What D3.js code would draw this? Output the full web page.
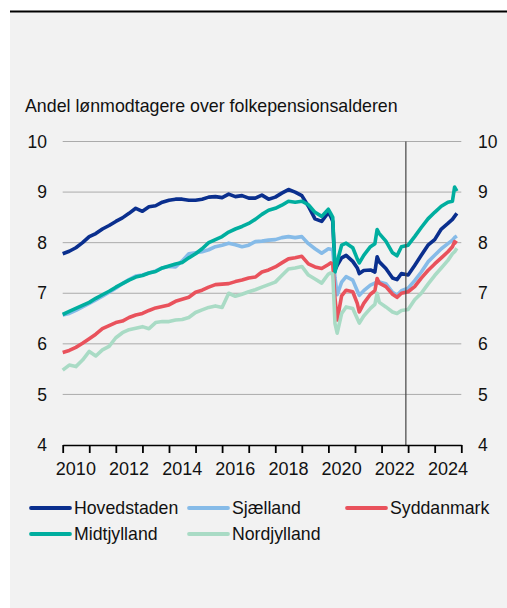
<!DOCTYPE html>
<html>
<head>
<meta charset="utf-8">
<script src="https://cdn.jsdelivr.net/npm/d3@7"></script>
<style>
  body { margin: 0; background: #fff; }
  svg { display: block; font-family: "Liberation Sans", Arial, sans-serif; }
</style>
</head>
<body>
<div id="chart"></div>
<script>
// dates (shared by all series)
var dates = [
  "2010-01","2010-04","2010-07","2010-10",
  "2011-01","2011-04","2011-07","2011-10",
  "2012-01","2012-04","2012-07","2012-10",
  "2013-01","2013-04","2013-07","2013-10",
  "2014-01","2014-04","2014-07","2014-10",
  "2015-01","2015-04","2015-07","2015-10",
  "2016-01","2016-04","2016-07","2016-10",
  "2017-01","2017-04","2017-07","2017-10",
  "2018-01","2018-04","2018-07","2018-10",
  "2019-01","2019-04","2019-07","2019-10",
  "2020-01","2020-02","2020-03","2020-04","2020-05","2020-07","2020-09","2020-12",
  "2021-02","2021-03","2021-05","2021-08","2021-10","2021-11","2021-12",
  "2022-03","2022-06","2022-08","2022-10",
  "2023-01","2023-04","2023-07","2023-10",
  "2024-01","2024-04","2024-07","2024-09","2024-10","2024-11"
];

var hovedstaden = [
  7.78, 7.83, 7.90, 8.00,
  8.12, 8.18, 8.27, 8.34,
  8.42, 8.49, 8.58, 8.68,
  8.62, 8.71, 8.73, 8.80,
  8.84, 8.86, 8.86, 8.84,
  8.84, 8.86, 8.90, 8.91,
  8.89, 8.96, 8.91, 8.93,
  8.88, 8.88, 8.94, 8.86,
  8.90, 8.98, 9.05, 9.00,
  8.93, 8.72, 8.47, 8.42,
  8.60, 8.52, 8.42, 7.46, 7.55, 7.70, 7.75, 7.63,
  7.50, 7.39, 7.45, 7.46, 7.42, 7.72, 7.62,
  7.49, 7.30, 7.27, 7.39,
  7.36, 7.55, 7.75, 7.95,
  8.06, 8.27, 8.38, 8.46, 8.52, 8.58
];
var sjaelland = [
  6.57, 6.60, 6.66, 6.73,
  6.80, 6.87, 6.94, 7.02,
  7.10, 7.19, 7.27, 7.34,
  7.36, 7.40, 7.44, 7.50,
  7.53, 7.52, 7.64, 7.78,
  7.80, 7.82, 7.86, 7.92,
  7.95, 7.99, 7.96, 7.92,
  7.95, 8.02, 8.03, 8.05,
  8.06, 8.10, 8.12, 8.10,
  8.12, 7.98, 7.88, 7.79,
  7.88, 7.87, 7.86, 7.30, 6.97, 7.22, 7.33, 7.26,
  7.05, 6.96, 7.05, 7.16, 7.20, 7.23, 7.22,
  7.19, 7.02, 6.96, 7.05,
  7.10, 7.25, 7.42, 7.62,
  7.75, 7.88, 7.98, 8.05, 8.10, 8.13
];
var syddanmark = [
  5.83, 5.87, 5.93, 6.01,
  6.10, 6.19, 6.30, 6.36,
  6.42, 6.45, 6.52, 6.57,
  6.60, 6.66, 6.71, 6.74,
  6.77, 6.84, 6.88, 6.92,
  7.02, 7.06, 7.12, 7.17,
  7.18, 7.19, 7.23, 7.26,
  7.30, 7.32, 7.42, 7.46,
  7.52, 7.60, 7.68, 7.70,
  7.73, 7.58, 7.52, 7.49,
  7.57, 7.60, 7.58, 6.90, 6.47, 6.95, 7.06, 7.03,
  6.80, 6.63, 6.80, 6.98, 7.05, 7.29, 7.20,
  7.13, 6.98, 6.92, 7.00,
  7.03, 7.13, 7.30, 7.45,
  7.58, 7.70, 7.82, 7.92, 8.02, 7.99
];
var midtjylland = [
  6.58, 6.64, 6.70, 6.76,
  6.82, 6.90, 6.97, 7.04,
  7.12, 7.19, 7.26, 7.32,
  7.35, 7.40, 7.43, 7.50,
  7.54, 7.58, 7.61, 7.70,
  7.78, 7.88, 8.00, 8.06,
  8.12, 8.21, 8.27, 8.32,
  8.38, 8.46, 8.56, 8.64,
  8.68, 8.74, 8.82, 8.80,
  8.82, 8.75, 8.60, 8.52,
  8.66, 8.58, 8.50, 7.42, 7.62, 7.95, 7.99, 7.90,
  7.68, 7.60, 7.75, 7.92, 7.98, 8.26, 8.18,
  8.03, 7.80, 7.74, 7.92,
  7.95, 8.12, 8.30, 8.47,
  8.60, 8.72, 8.80, 8.82, 9.10, 9.02
];
var nordjylland = [
  5.48, 5.58, 5.55, 5.68,
  5.85, 5.76, 5.88, 5.95,
  6.12, 6.22, 6.28, 6.31,
  6.34, 6.30, 6.42, 6.44,
  6.44, 6.47, 6.48, 6.52,
  6.62, 6.67, 6.72, 6.75,
  6.72, 7.00, 6.94, 6.98,
  7.03, 7.07, 7.12, 7.17,
  7.22, 7.35, 7.48, 7.50,
  7.53, 7.36, 7.28, 7.20,
  7.38, 7.40, 7.38, 6.40, 6.21, 6.60, 6.73, 6.70,
  6.50, 6.41, 6.55, 6.70, 6.78, 7.00, 6.82,
  6.73, 6.63, 6.60, 6.66,
  6.68, 6.87, 7.00, 7.18,
  7.35, 7.50, 7.65, 7.78, 7.82, 7.89
];

var seriesNames = ["Hovedstaden", "Sjælland", "Syddanmark", "Midtjylland", "Nordjylland"];
var seriesColors = ["#0a2f8e", "#86bbe8", "#e9525c", "#00ae9f", "#a9dbc5"];
var yTicks = [4, 5, 6, 7, 8, 9, 10];
var yearLabels = [2010, 2012, 2014, 2016, 2018, 2020, 2022, 2024];
var markerDate = "2022-12";
var title = "Andel lønmodtagere over folkepensionsalderen";

var svgWidth = 507, svgHeight = 608;
var plotLeft = 62.7, plotRight = 461.3, plotTop = 141.5, plotBottom = 445;

var svg = d3.select("#chart").append("svg")
  .attr("width", svgWidth)
  .attr("height", svgHeight);

// panel
svg.append("rect").attr("x", 10).attr("y", 12).attr("width", svgWidth - 10).attr("height", svgHeight - 12)
  .attr("fill", "#f2f2f2");
svg.append("line").attr("x1", 10).attr("x2", svgWidth).attr("y1", 11.5).attr("y2", 11.5)
  .attr("stroke", "#000").attr("stroke-width", 2);

svg.append("text").attr("x", 25).attr("y", 112)
  .attr("font-size", 17.8).attr("fill", "#111").text(title);

var parse = d3.timeParse("%Y-%m");
var x = d3.scaleTime()
  .domain([new Date(2010, 0, 1), new Date(2025, 0, 1)])
  .range([plotLeft, plotRight]);
var y = d3.scaleLinear().domain([4, 10]).range([plotBottom, plotTop]);

// gridlines
svg.append("g").selectAll("line")
  .data(yTicks.filter(d => d > 4))
  .enter().append("line")
  .attr("x1", plotLeft).attr("x2", plotRight)
  .attr("y1", d => y(d)).attr("y2", d => y(d))
  .attr("stroke", "#ababab").attr("stroke-width", 1);

// y labels both sides
var yl = d3.axisLeft(y).tickValues(yTicks).tickSize(0).tickPadding(0).tickFormat(d3.format("d"));
var gl = svg.append("g").attr("transform", "translate(47,0)").call(yl);
var yr = d3.axisRight(y).tickValues(yTicks).tickSize(0).tickPadding(0).tickFormat(d3.format("d"));
var gr = svg.append("g").attr("transform", "translate(478,0)").call(yr);
[gl, gr].forEach(function(g) {
  g.select(".domain").remove();
  g.selectAll("text").attr("font-size", 17.5).attr("fill", "#111")
    .attr("font-family", "Liberation Sans, Arial, sans-serif");
});

// series lines
var data = [hovedstaden, sjaelland, syddanmark, midtjylland, nordjylland];
var line = d3.line()
  .x((d, i) => x(parse(dates[i])))
  .y(d => y(d));

svg.append("g").selectAll("path")
  .data(data)
  .enter().append("path")
  .attr("d", line)
  .attr("fill", "none")
  .attr("stroke", (d, i) => seriesColors[i])
  .attr("stroke-width", 3.6)
  .attr("stroke-linejoin", "round");

// vertical marker
var mx = x(parse(markerDate));
svg.append("line").attr("x1", mx).attr("x2", mx).attr("y1", plotTop).attr("y2", plotBottom)
  .attr("stroke", "#444").attr("stroke-width", 1.2);

// x axis
var xa = d3.axisBottom(x).ticks(d3.timeYear.every(1)).tickSize(8).tickSizeOuter(0).tickFormat("");
var gx = svg.append("g").attr("transform", "translate(0," + plotBottom + ")").call(xa);
gx.select(".domain").attr("stroke", "#000").attr("stroke-width", 1.6);
gx.selectAll(".tick line").attr("stroke", "#000").attr("stroke-width", 1.8);

svg.append("g").selectAll("text")
  .data(yearLabels)
  .enter().append("text")
  .attr("x", d => x(new Date(d, 6, 1)))
  .attr("y", 475)
  .attr("text-anchor", "middle")
  .attr("font-size", 18).attr("fill", "#111")
  .text(d => d);

// legend
var legendPos = [[30, 508], [188, 508], [346, 508], [30, 534], [188, 534]];
var lg = svg.append("g").selectAll("g")
  .data(seriesNames)
  .enter().append("g")
  .attr("transform", (d, i) => "translate(" + legendPos[i][0] + "," + legendPos[i][1] + ")");
lg.append("line").attr("x1", 1).attr("x2", 40).attr("y1", 0).attr("y2", 0)
  .attr("stroke", (d, i) => seriesColors[i]).attr("stroke-width", 3.8)
  .attr("stroke-linecap", "round");
lg.append("text").attr("x", 44).attr("y", 6)
  .attr("font-size", 17.7).attr("fill", "#111").text(d => d);
</script>
</body>
</html>
